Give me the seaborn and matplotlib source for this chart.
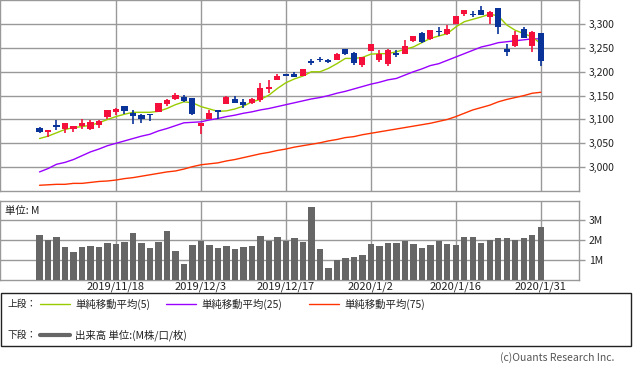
import numpy as np
import pandas as pd
import matplotlib
matplotlib.use('Agg')
import matplotlib.pyplot as plt
from matplotlib.lines import Line2D
from matplotlib.patches import Rectangle
import seaborn as sns

# daily prices, 60 trading days
opens = [3082, 3073, 3088, 3080, 3079, 3087, 3081, 3089, 3105, 3115,
         3128, 3114, 3109, 3112, 3115, 3132, 3142, 3148, 3145, 3086,
         3100, 3120, 3133, 3143, 3136, 3135, 3140, 3164, 3182, 3195,
         3195, 3191, 3222, 3227, 3224, 3224, 3248, 3240, 3214, 3243,
         3224, 3217, 3240, 3238, 3265, 3282, 3268, 3285, 3280, 3301,
         3322, 3322, 3329, 3314, 3333, 3248, 3254, 3289, 3254, 3282]
highs = [3085, 3078, 3098, 3092, 3087, 3102, 3098, 3098, 3120, 3125,
         3128, 3120, 3112, 3112, 3134, 3143, 3155, 3151, 3145, 3092,
         3120, 3120, 3150, 3149, 3143, 3145, 3177, 3182, 3196, 3195,
         3199, 3205, 3226, 3230, 3226, 3240, 3248, 3242, 3230, 3258,
         3245, 3247, 3245, 3266, 3275, 3284, 3287, 3293, 3298, 3317,
         3329, 3328, 3338, 3327, 3333, 3258, 3286, 3293, 3285, 3282]
lows = [3071, 3064, 3078, 3072, 3074, 3081, 3078, 3082, 3102, 3109,
        3111, 3090, 3093, 3097, 3115, 3128, 3140, 3136, 3109, 3069,
        3100, 3102, 3133, 3135, 3124, 3133, 3137, 3156, 3182, 3191,
        3189, 3191, 3215, 3220, 3219, 3224, 3235, 3215, 3210, 3243,
        3221, 3212, 3231, 3237, 3263, 3261, 3266, 3275, 3277, 3301,
        3317, 3315, 3319, 3300, 3280, 3233, 3252, 3271, 3242, 3212]
closes = [3074, 3078, 3084, 3092, 3087, 3092, 3094, 3096, 3120, 3122,
          3117, 3107, 3101, 3109, 3134, 3141, 3152, 3139, 3111, 3092,
          3114, 3115, 3147, 3135, 3130, 3143, 3167, 3168, 3191, 3191,
          3190, 3205, 3218, 3224, 3221, 3238, 3237, 3219, 3230, 3258,
          3238, 3245, 3236, 3254, 3275, 3263, 3287, 3283, 3289, 3317,
          3329, 3319, 3319, 3325, 3294, 3242, 3277, 3271, 3283, 3223]

ma5 = [3060, 3065, 3072, 3079, 3083, 3085, 3088, 3093, 3100, 3106,
       3111, 3115, 3115, 3115, 3117, 3123, 3131, 3137, 3135, 3127,
       3122, 3117, 3118, 3122, 3128, 3137, 3142, 3151, 3165, 3177,
       3185, 3191, 3200, 3200, 3207, 3217, 3228, 3228, 3230, 3237,
       3238, 3238, 3242, 3247, 3252, 3261, 3270, 3275, 3280, 3294,
       3305, 3310, 3315, 3321, 3317, 3298, 3287, 3280, 3273, 3259]
ma25 = [2990, 2997, 3006, 3010, 3016, 3024, 3032, 3038, 3045, 3050,
        3055, 3060, 3065, 3069, 3076, 3081, 3087, 3093, 3094, 3095,
        3099, 3102, 3106, 3109, 3113, 3116, 3120, 3123, 3127, 3131,
        3135, 3139, 3143, 3146, 3150, 3155, 3159, 3164, 3169, 3174,
        3178, 3183, 3186, 3193, 3200, 3206, 3213, 3217, 3224, 3231,
        3238, 3245, 3252, 3256, 3261, 3263, 3265, 3267, 3269, 3269]
ma75 = [2962, 2963, 2964, 2964, 2966, 2966, 2968, 2970, 2971, 2973,
        2976, 2978, 2981, 2984, 2987, 2990, 2992, 2996, 3001, 3005,
        3007, 3009, 3013, 3016, 3020, 3024, 3028, 3031, 3035, 3038,
        3042, 3045, 3048, 3051, 3055, 3058, 3062, 3064, 3068, 3071,
        3074, 3077, 3080, 3083, 3086, 3089, 3092, 3096, 3100, 3106,
        3113, 3120, 3125, 3130, 3137, 3142, 3146, 3150, 3155, 3157]

# volume in millions
volume = [2.25, 2.0, 2.15, 1.65, 1.4, 1.65, 1.7, 1.65, 1.85, 1.8,
          1.9, 2.35, 1.85, 1.6, 1.9, 2.45, 1.45, 0.8, 1.75, 1.95,
          1.75, 1.6, 1.7, 1.55, 1.65, 1.7, 2.2, 1.95, 2.15, 1.95,
          2.1, 1.9, 3.65, 1.55, 0.6, 1.0, 1.1, 1.15, 1.25, 1.8,
          1.7, 1.85, 1.85, 1.95, 1.8, 1.6, 1.75, 1.95, 1.8, 1.75,
          2.15, 2.15, 1.85, 2.0, 2.1, 2.1, 2.0, 2.1, 2.25, 2.65]

tick_pos = [9, 19, 29, 39, 49, 59]
tick_labels = ['2019/11/18', '2019/12/3', '2019/12/17', '2020/1/2', '2020/1/16', '2020/1/31']

df = pd.DataFrame({'i': np.arange(len(closes)), 'open': opens, 'high': highs,
                   'low': lows, 'close': closes, 'ma5': ma5, 'ma25': ma25,
                   'ma75': ma75, 'vol': volume})

sns.set_style('white')
plt.rcParams['font.family'] = ['Noto Sans CJK JP', 'DejaVu Sans']

W, H = 633, 374
fig = plt.figure(figsize=(W / 100, H / 100), dpi=100)

def fy(px):
    return 1 - px / H

grid_c = '#999999'
up_c = '#f5103c'
dn_c = '#0a3399'

ax = fig.add_axes([0, fy(191), 579 / W, 191 / H])
axv = fig.add_axes([0, fy(280), 579 / W, 79 / H])

xmin, xmax = -4.65, 63.5

# shared styling for both panels
for a in (ax, axv):
    a.set_xlim(xmin, xmax)
    for s in a.spines.values():
        s.set_color(grid_c)
        s.set_linewidth(1)
    a.set_xticks(tick_pos)
    a.grid(True, color=grid_c, linewidth=1)
    a.set_axisbelow(True)
    a.yaxis.tick_right()
    a.tick_params(axis='y', which='both', right=True, length=4, width=1,
                  color=grid_c, labelsize=7.5, labelcolor='#222222', pad=3)
    a.tick_params(axis='x', length=0)

# price panel
ax.set_ylim(2950, 3350.5)
ax.set_yticks([3000, 3050, 3100, 3150, 3200, 3250, 3300])
ax.set_yticklabels(['3,000', '3,050', '3,100', '3,150', '3,200', '3,250', '3,300'])
ax.set_xticklabels([])

sns.lineplot(data=df, x='i', y='ma75', ax=ax, color='#ff3300', linewidth=1)
sns.lineplot(data=df, x='i', y='ma25', ax=ax, color='#9900ff', linewidth=1)
sns.lineplot(data=df, x='i', y='ma5', ax=ax, color='#99cc00', linewidth=1)

up = df['close'] >= df['open']
colors = np.where(up, up_c, dn_c)
ax.vlines(df['i'], df['low'], df['high'], colors=colors, linewidth=1.2, zorder=3)
bottom = np.minimum(df['open'], df['close'])
height = np.maximum(np.abs(df['close'] - df['open']), 1.5)
ax.bar(df['i'], height, bottom=bottom, width=0.72, color=colors,
       edgecolor='none', linewidth=0, zorder=4)
ax.set_xlabel('')
ax.set_ylabel('')

# volume panel
sns.barplot(data=df, x='i', y='vol', ax=axv, native_scale=True,
            color='#666666', saturation=1, width=0.75, edgecolor='none',
            linewidth=0, zorder=3)
axv.set_xlim(xmin, xmax)
axv.set_ylim(0, 3.95)
axv.set_yticks([1, 2, 3])
axv.set_yticklabels(['1M', '2M', '3M'])
axv.set_xticks(tick_pos)
axv.set_xticklabels(tick_labels, fontsize=8, color='#222222')
axv.tick_params(axis='x', pad=1)
axv.set_xlabel('')
axv.set_ylabel('')
axv.text(5 / 579, 0.87, '単位: M', transform=axv.transAxes, fontsize=7.5,
         color='#222222', va='center', ha='left')

# legend box
fig.add_artist(Rectangle((0.5 / W, fy(346)), 630 / W, 53 / H, transform=fig.transFigure,
                         fill=False, edgecolor='#222222', linewidth=1))
fig.text(8 / W, fy(304), '上段：', fontsize=7, va='center', color='#222222')
fig.text(8 / W, fy(335), '下段：', fontsize=7, va='center', color='#222222')
legend_items = [(40, '#99cc00', '単純移動平均(5)'),
                (166, '#9900ff', '単純移動平均(25)'),
                (309, '#ff3300', '単純移動平均(75)')]
for x0, c, label in legend_items:
    fig.add_artist(Line2D([x0 / W, (x0 + 30) / W], [fy(304), fy(304)], color=c,
                          linewidth=1, transform=fig.transFigure))
    fig.text((x0 + 35) / W, fy(304), label, fontsize=7.5, va='center', color='#222222')
fig.add_artist(Line2D([40 / W, 70 / W], [fy(335), fy(335)], color='#666666',
                      linewidth=3, transform=fig.transFigure))
fig.text(75 / W, fy(335), '出来高 単位:(M株/口/枚)', fontsize=7.5, va='center', color='#222222')

fig.text(614 / W, fy(358), '(c)Ouants Research Inc.', fontsize=7.5, va='center',
         ha='right', color='#555555')

fig.savefig('out.png', dpi=100)
